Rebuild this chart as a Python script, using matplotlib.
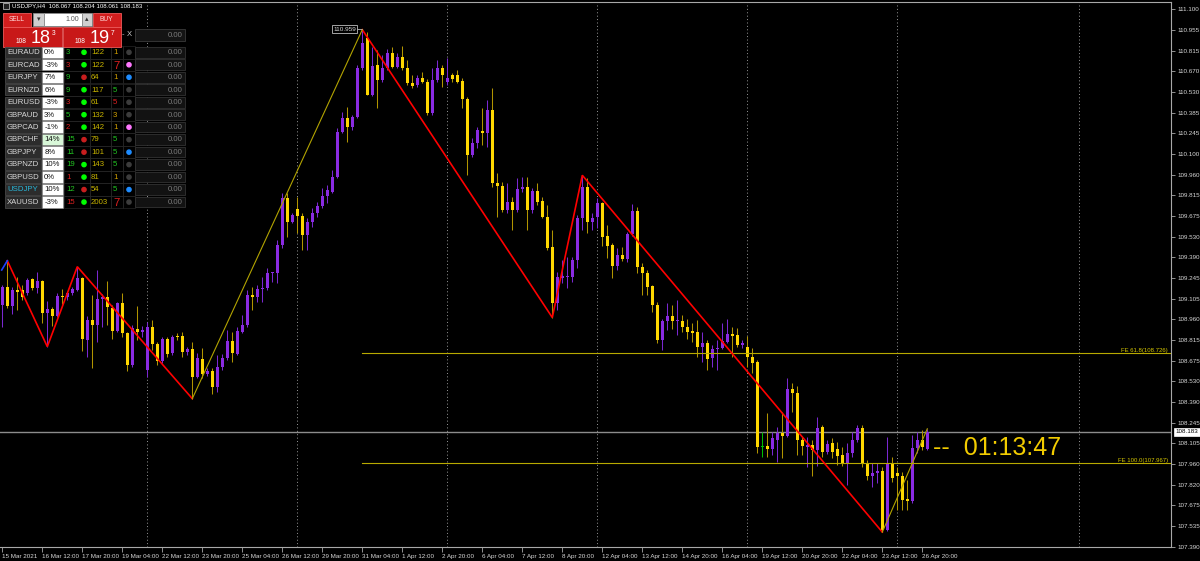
import matplotlib
matplotlib.use("Agg")
import matplotlib.pyplot as plt
from matplotlib.patches import Rectangle, Circle
import matplotlib.transforms as mtrans
import numpy as np

plt.rcParams['font.family'] = ['Liberation Sans', 'DejaVu Sans']

# ---------------- data (USDJPY H4) ----------------
opens = [
109.058, 109.181, 109.054, 109.162, 109.162, 109.139, 109.238, 109.176, 109.224, 109.005,
109.031, 108.985, 109.123, 109.112, 109.139, 109.162, 109.247, 108.817, 108.955, 108.918,
109.100, 109.112, 109.036, 108.881, 109.072, 108.865, 108.644, 108.893, 108.874, 108.610,
108.909, 108.789, 108.674, 108.824, 108.725, 108.844, 108.844, 108.732, 108.755, 108.559,
108.686, 108.582, 108.605, 108.494, 108.632, 108.691, 108.810, 108.720, 108.874, 108.920,
109.127, 109.116, 109.169, 109.178, 109.277, 109.277, 109.473, 109.795, 109.633, 109.719,
109.673, 109.542, 109.633, 109.691, 109.742, 109.811, 109.841, 109.944, 110.255, 110.347,
110.289, 110.354, 110.692, 110.900, 110.508, 110.715, 110.612, 110.692, 110.796, 110.704,
110.773, 110.692, 110.589, 110.577, 110.623, 110.600, 110.382, 110.612, 110.692, 110.600,
110.646, 110.646, 110.605, 110.481, 110.094, 110.175, 110.260, 110.248, 110.405, 109.903,
109.880, 109.714, 109.771, 109.714, 109.857, 109.875, 109.714, 109.847, 109.776, 109.668,
109.457, 109.074, 109.243, 109.252, 109.254, 109.369, 109.657, 109.875, 109.633, 109.668,
109.761, 109.535, 109.473, 109.328, 109.404, 109.374, 109.549, 109.709, 109.323, 109.281,
109.190, 109.058, 108.817, 108.950, 108.982, 108.946, 108.950, 108.904, 108.879, 108.872,
108.771, 108.798, 108.695, 108.755, 108.759, 108.805, 108.858, 108.851, 108.782, 108.766,
108.697, 108.663, 108.080, 108.085, 108.062, 108.126, 108.177, 108.154, 108.476, 108.453,
108.126, 108.080, 108.092, 108.057, 108.214, 108.046, 108.104, 108.064, 108.023, 107.965,
108.035, 108.126, 108.207, 107.965, 107.878, 107.901, 107.912, 107.505, 107.970, 107.897,
107.878, 107.717, 107.707, 108.069, 108.126, 108.067]
highs = [
109.197, 109.364, 109.185, 109.254, 109.197, 109.245, 109.247, 109.284, 109.231, 109.086,
109.047, 109.139, 109.167, 109.150, 109.185, 109.323, 109.254, 108.982, 109.127, 109.300,
109.134, 109.226, 109.058, 109.081, 109.139, 108.874, 108.920, 109.054, 108.913, 108.943,
108.955, 108.805, 108.840, 108.840, 108.851, 108.867, 108.874, 108.771, 108.805, 108.725,
108.761, 108.623, 108.623, 108.713, 108.720, 108.886, 108.874, 108.906, 108.989, 109.162,
109.185, 109.197, 109.254, 109.314, 109.288, 109.507, 109.830, 109.830, 109.691, 109.806,
109.691, 109.657, 109.726, 109.772, 109.866, 109.887, 109.990, 110.278, 110.393, 110.427,
110.370, 110.715, 110.959, 110.945, 110.842, 110.819, 110.784, 110.824, 110.842, 110.796,
110.846, 110.750, 110.646, 110.646, 110.669, 110.617, 110.692, 110.750, 110.715, 110.761,
110.658, 110.681, 110.623, 110.496, 110.209, 110.289, 110.416, 110.474, 110.554, 109.968,
109.910, 109.899, 109.806, 109.933, 109.944, 109.944, 109.864, 109.903, 109.806, 109.749,
109.576, 109.288, 109.369, 109.392, 109.392, 109.680, 109.954, 109.935, 109.691, 109.795,
109.772, 109.611, 109.484, 109.450, 109.457, 109.564, 109.756, 109.737, 109.346, 109.300,
109.197, 109.081, 108.960, 109.070, 109.058, 109.093, 108.989, 108.960, 108.932, 108.955,
108.874, 108.817, 108.782, 108.817, 108.936, 108.960, 108.909, 108.897, 108.817, 108.844,
108.760, 108.679, 108.184, 108.311, 108.184, 108.218, 108.322, 108.552, 108.518, 108.499,
108.149, 108.145, 108.126, 108.287, 108.230, 108.126, 108.138, 108.115, 108.080, 108.104,
108.184, 108.230, 108.230, 107.988, 107.965, 107.965, 107.942, 108.149, 108.011, 107.942,
107.908, 107.850, 108.161, 108.184, 108.195, 108.204]
lows = [
108.906, 109.038, 108.999, 109.024, 109.093, 109.127, 109.162, 109.139, 108.936, 108.771,
108.913, 108.978, 109.063, 109.093, 109.127, 109.157, 108.743, 108.702, 108.626, 108.805,
108.909, 108.920, 108.822, 108.874, 108.840, 108.605, 108.632, 108.817, 108.840, 108.563,
108.748, 108.644, 108.660, 108.702, 108.713, 108.817, 108.702, 108.713, 108.412, 108.552,
108.554, 108.568, 108.444, 108.460, 108.610, 108.679, 108.667, 108.713, 108.865, 108.909,
109.024, 109.081, 109.081, 109.162, 109.219, 109.208, 109.450, 109.530, 109.622, 109.553,
109.438, 109.438, 109.599, 109.668, 109.728, 109.763, 109.830, 109.933, 110.244, 110.186,
110.267, 110.347, 110.681, 110.508, 110.500, 110.416, 110.600, 110.681, 110.692, 110.692,
110.681, 110.577, 110.554, 110.561, 110.593, 110.370, 110.370, 110.600, 110.566, 110.577,
110.600, 110.589, 110.416, 109.956, 110.082, 110.140, 110.163, 110.151, 109.875, 109.668,
109.702, 109.691, 109.576, 109.702, 109.838, 109.576, 109.691, 109.749, 109.657, 109.438,
108.972, 109.024, 109.210, 109.174, 109.219, 109.312, 109.576, 109.553, 109.576, 109.588,
109.466, 109.381, 109.243, 109.300, 109.364, 109.357, 109.535, 109.281, 109.127, 109.127,
109.012, 108.794, 108.748, 108.886, 108.891, 108.851, 108.874, 108.822, 108.805, 108.702,
108.667, 108.610, 108.632, 108.610, 108.752, 108.794, 108.702, 108.771, 108.759, 108.632,
108.587, 108.035, 108.011, 108.011, 108.023, 107.977, 108.000, 108.149, 108.322, 108.023,
108.023, 107.942, 107.878, 107.947, 108.011, 108.030, 108.000, 107.954, 107.947, 107.816,
108.011, 108.115, 107.942, 107.850, 107.804, 107.827, 107.491, 107.498, 107.839, 107.643,
107.643, 107.643, 107.689, 108.035, 108.057, 108.061]
closes = [
109.183, 109.054, 109.162, 109.150, 109.116, 109.231, 109.176, 109.224, 109.005, 109.031,
108.985, 109.123, 109.112, 109.139, 109.169, 109.247, 108.826, 108.955, 108.918, 109.100,
109.112, 109.047, 108.881, 109.074, 108.863, 108.644, 108.900, 108.874, 108.886, 108.909,
108.789, 108.674, 108.824, 108.720, 108.840, 108.835, 108.732, 108.755, 108.559, 108.691,
108.580, 108.605, 108.494, 108.632, 108.691, 108.810, 108.725, 108.881, 108.920, 109.127,
109.116, 109.169, 109.178, 109.277, 109.284, 109.473, 109.795, 109.633, 109.680, 109.673,
109.542, 109.633, 109.691, 109.742, 109.811, 109.852, 109.944, 110.255, 110.347, 110.289,
110.354, 110.692, 110.865, 110.508, 110.710, 110.612, 110.692, 110.796, 110.704, 110.773,
110.692, 110.589, 110.570, 110.623, 110.600, 110.382, 110.612, 110.692, 110.646, 110.623,
110.619, 110.600, 110.481, 110.094, 110.175, 110.267, 110.248, 110.405, 109.903, 109.880,
109.714, 109.771, 109.714, 109.857, 109.875, 109.714, 109.847, 109.771, 109.668, 109.450,
109.074, 109.254, 109.259, 109.257, 109.369, 109.657, 109.875, 109.633, 109.657, 109.761,
109.530, 109.466, 109.328, 109.404, 109.374, 109.549, 109.709, 109.323, 109.281, 109.181,
109.058, 108.817, 108.950, 108.982, 108.950, 108.955, 108.904, 108.874, 108.867, 108.771,
108.798, 108.686, 108.755, 108.764, 108.810, 108.858, 108.847, 108.782, 108.794, 108.697,
108.660, 108.080, 108.080, 108.062, 108.138, 108.177, 108.154, 108.476, 108.449, 108.126,
108.085, 108.092, 108.057, 108.207, 108.046, 108.099, 108.046, 108.016, 107.965, 108.039,
108.126, 108.207, 107.961, 107.878, 107.901, 107.912, 107.505, 107.970, 107.862, 107.878,
107.712, 107.707, 108.069, 108.126, 108.080, 108.183]

date_labels = ["15 Mar 2021", "16 Mar 12:00", "17 Mar 20:00", "19 Mar 04:00", "22 Mar 12:00",
               "23 Mar 20:00", "25 Mar 04:00", "26 Mar 12:00", "29 Mar 20:00", "31 Mar 04:00",
               "1 Apr 12:00", "2 Apr 20:00", "6 Apr 04:00", "7 Apr 12:00", "8 Apr 20:00",
               "12 Apr 04:00", "13 Apr 12:00", "14 Apr 20:00", "16 Apr 04:00", "19 Apr 12:00",
               "20 Apr 20:00", "22 Apr 04:00", "23 Apr 12:00", "26 Apr 20:00"]
price_labels = ["111.100", "110.955", "110.815", "110.670", "110.530", "110.385", "110.245",
                "110.100", "109.960", "109.815", "109.675", "109.530", "109.390", "109.245",
                "109.105", "108.960", "108.815", "108.675", "108.530", "108.390", "108.245",
                "108.105", "107.960", "107.820", "107.675", "107.535", "107.390"]
week_start_idx = [29, 59, 89, 119, 149, 179, 215.3]

# zigzag legs (bar index, price)
zz_red_1 = [(1, 109.364), (9, 108.771), (15, 109.323), (38, 108.412)]
zz_olive_1 = [(38, 108.412), (72, 110.959)]
zz_red_2 = [(72, 110.959), (110, 108.972), (116, 109.954), (176, 107.491)]
zz_olive_2 = [(176, 107.491), (185, 108.204)]
zz_blue = [(-0.12, 109.300), (1, 109.364)]
peak_label = (72, 110.959, "110.959")
fe_levels = [108.726, 107.967]
fe_texts = ["FE 61.8(108.726)", "FE 100.0(107.967)"]
fe_start = 72
bid_price = 108.183
timer_text = "--  01:13:47"
title_text = "USDJPY,H4  108.067 108.204 108.061 108.183"

# dashboard panel
symbols = ["EURAUD", "EURCAD", "EURJPY", "EURNZD", "EURUSD", "GBPAUD", "GBPCAD",
           "GBPCHF", "GBPJPY", "GBPNZD", "GBPUSD", "USDJPY", "XAUUSD"]
pcts = ["0%", "-3%", "7%", "6%", "-3%", "3%", "-1%", "14%", "8%", "10%", "0%", "10%", "-3%"]
n1_vals = ["3", "3", "9", "9", "3", "5", "2", "15", "11", "19", "1", "12", "15"]
n1_cols = ["g", "r", "g", "g", "r", "g", "r", "g", "g", "g", "r", "g", "r"]
dot1 = ["g", "g", "r", "g", "g", "g", "g", "r", "r", "g", "g", "r", "g"]
n2_vals = ["122", "122", "64", "117", "61", "132", "142", "79", "101", "143", "81", "54", "2003"]
n3_vals = ["1", "7", "1", "5", "5", "3", "1", "5", "5", "5", "1", "5", "7"]
n3_cols = ["o", "r", "o", "g", "r", "o", "o", "g", "g", "g", "o", "g", "r"]
dot2 = ["x", "p", "b", "x", "x", "x", "p", "x", "b", "x", "x", "b", "x"]

# ---------------- figure ----------------
W, Hpx = 1200, 561
fig = plt.figure(figsize=(W / 100, Hpx / 100), dpi=100, facecolor='black')
ax = fig.add_axes([0, 14 / Hpx, 1171 / W, 545 / Hpx])
ax.set_facecolor('black')

o = np.array(opens); h = np.array(highs); l = np.array(lows); c = np.array(closes)
idx = np.arange(len(c))
ax.set_xlim(-0.46, 233.74)
ax.set_ylim(107.388, 111.150)

PURPLE = '#8a2be2'; PURPLE_W = '#7a28d0'
GOLD = '#ffd700'; GOLD_W = '#b09400'; DOJI = '#00c000'
up = c > o
doji = np.isclose(c, o)
body_col = np.where(doji, DOJI, np.where(up, PURPLE, GOLD))
wick_col = np.where(doji, DOJI, np.where(up, PURPLE_W, GOLD_W))
ax.vlines(idx, l, h, colors=wick_col, lw=0.75, zorder=2)
bottoms = np.minimum(o, c)
heights = np.maximum(np.abs(c - o), 0.0075)
ax.bar(idx, heights, bottom=bottoms, width=0.62, color=body_col, lw=0, zorder=3)

# grid
for g in week_start_idx:
    ax.axvline(g, color='#9a9a9a', lw=0.7, ls=(0, (1, 2.5)), zorder=1)

# FE levels
for lev, t in zip(fe_levels, fe_texts):
    ax.plot([fe_start, 240], [lev, lev], color='#b8aa00', lw=0.8, zorder=4)
    ax.text(233.1, lev + 0.004, t, ha='right', va='bottom', fontsize=4.3, color='#d8c800', zorder=5)

# current price line
ax.axhline(bid_price, color='#8c8c8c', lw=1.0, zorder=1)

def leg(pts, col, lw):
    xs, ys = zip(*pts)
    ax.plot(xs, ys, color=col, lw=lw, zorder=6, solid_joinstyle='miter')

leg(zz_red_1, '#ff0000', 1.2)
leg(zz_red_2, '#ff0000', 1.2)
leg(zz_olive_1, '#b3a400', 0.8)
leg(zz_olive_2, '#b3a400', 0.8)
leg(zz_blue, '#2040ff', 1.2)

# peak price label
px_, py_, pt_ = peak_label
ax.annotate(pt_, xy=(px_, py_), xytext=(-12.8, 0.3), textcoords='offset points',
            ha='center', va='center', fontsize=4.6, color='#d8d8d8', zorder=7,
            bbox=dict(boxstyle='square,pad=0.2', fc='black', ec='#bdbdbd', lw=0.6),
            arrowprops=dict(arrowstyle='-', color='#bdbdbd', lw=0.6, shrinkA=0, shrinkB=0))

# timer
ax.text(186.1, 108.071, timer_text, ha='left', va='center', fontsize=18,
        color='#f2cc00', zorder=7)

# axes styling
for s in ['top', 'right', 'bottom']:
    ax.spines[s].set_color('#a8a8a8'); ax.spines[s].set_linewidth(0.8)
ax.spines['left'].set_visible(False)
ax.yaxis.tick_right()
ytk = [111.100 - k * (3.71 / 26) for k in range(len(price_labels))]
ax.set_yticks(ytk)
ax.set_yticklabels(price_labels)
ax.tick_params(axis='y', color='#a8a8a8', labelcolor='#d8d8d8', labelsize=4.5,
               length=3, width=0.6, pad=1.5)
ax.set_xticks(np.arange(0, 8 * len(date_labels), 8))
ax.set_xticklabels(date_labels)
for t in ax.get_xticklabels():
    t.set_ha('left')
ax.tick_params(axis='x', color='#a8a8a8', labelcolor='#d8d8d8', labelsize=4.5,
               length=3.5, width=0.6, pad=1.5)

ax.annotate(f"{bid_price:.3f}", xy=(1, bid_price), xycoords=('axes fraction', 'data'),
            xytext=(3.2, 0), textcoords='offset points', ha='left', va='center',
            fontsize=4.5, color='black', zorder=8, annotation_clip=False,
            bbox=dict(boxstyle='square,pad=0.25', fc='white', ec='white', lw=0.5))

# ---------------- overlay panel (pixel coords) ----------------
ov = fig.add_axes([0, 0, 1, 1])
ov.set_xlim(0, W); ov.set_ylim(Hpx, 0)
ov.axis('off')

def rect(x0, y0, x1, y1, fc, ec='none', lw=0.6, z=10):
    ov.add_patch(Rectangle((x0, y0), x1 - x0, y1 - y0, facecolor=fc, edgecolor=ec, lw=lw, zorder=z))

def txt(x, y, s, size, color, ha='left', va='center', **kw):
    ov.text(x, y, s, fontsize=size, color=color, ha=ha, va=va, zorder=12, **kw)

# title
rect(2.5, 3, 9, 9, '#202020', ec='#cfcfcf', lw=0.5)
txt(12, 6.2, title_text, 4.4, '#ffffff')

# sell / buy buttons
RED = '#d21e1e'; RED_E = '#ee5a5a'
rect(3, 12.5, 31, 26.5, RED, ec=RED_E)
txt(17, 19.5, 'SELL', 4.8, '#ffd9d9', ha='center')
rect(32.5, 13, 44, 26, '#cfcfcf', ec='#8a8a8a')
txt(38.3, 19.5, '▾', 5, '#333333', ha='center')
rect(44, 13, 81.5, 26, '#ffffff', ec='#8a8a8a')
txt(79, 19.5, '1.00', 5, '#555555', ha='right')
rect(81.5, 13, 91.5, 26, '#cfcfcf', ec='#8a8a8a')
txt(86.5, 19.5, '▴', 5, '#333333', ha='center')
rect(93, 12.5, 120.5, 26.5, RED, ec=RED_E)
txt(106.7, 19.5, 'BUY', 4.8, '#ffd9d9', ha='center')

rect(3, 27, 62, 47, '#c81818', ec=RED_E)
rect(63, 27, 121, 47, '#c81818', ec=RED_E)
txt(20.5, 41.5, '108', 4.8, 'white', ha='center')
txt(40.5, 38, '18', 13, 'white', ha='center')
txt(51.5, 33, '3', 4.8, 'white')
txt(79.5, 41.5, '108', 4.8, 'white', ha='center')
txt(99.5, 38, '19', 13, 'white', ha='center')
txt(111, 33, '7', 4.8, 'white')

txt(123.3, 34.5, '-', 5.5, '#bbbbbb', ha='center')
txt(129.3, 34.5, 'X', 5.5, '#cccccc', ha='center')
rect(134.5, 29, 185, 40.5, '#141414', ec='#3a3a3a')
txt(183, 35, '0.00', 5.6, '#7c7c7c', ha='right')

cmap = {'g': '#22c422', 'r': '#e02020', 'o': '#d4a200'}
dmap = {'g': '#00ff00', 'r': '#c81e1e', 'x': '#3c3c3c', 'p': '#ff78ff', 'b': '#1e8cff'}
for r, sym in enumerate(symbols):
    yc = 52.3 + r * 12.48
    rect(5, yc - 5.7, 40.7, yc + 5.7, '#2c2c2c', ec='#474747')
    txt(7, yc + 0.3, sym, 5.6, '#29b6d8' if sym == 'USDJPY' else '#d8d8d8')
    bg = '#d8f7d8' if pcts[r] == '14%' else '#ffffff'
    rect(42.3, yc - 5.7, 62.5, yc + 5.7, bg, ec='#9a9a9a', lw=0.4)
    txt(44.2, yc + 0.3, pcts[r], 5.6, '#111111')
    for xa, xb in [(63.5, 89.5), (89.5, 110.5), (110.5, 122.5), (122.5, 134.5)]:
        rect(xa, yc - 6.2, xb, yc + 6.2, 'none', ec='#262626', lw=0.5, z=9)
    txt(66, yc + 0.3, n1_vals[r], 5.6, cmap[n1_cols[r]])
    ov.add_patch(Circle((84, yc), 2.1, color=dmap[dot1[r]], zorder=11))
    txt(91, yc + 0.3, n2_vals[r], 5.6, '#c8b400')
    big = n3_vals[r] == '7'
    txt(113, yc + (0.8 if big else 0.3), n3_vals[r], 8.2 if big else 5.6, cmap[n3_cols[r]])
    ov.add_patch(Circle((129, yc), 2.1, color=dmap[dot2[r]], zorder=11))
    rect(135, yc - 5.3, 185, yc + 5.3, '#121212', ec='#323232')
    txt(183, yc + 0.3, '0.00', 5.6, '#7c7c7c', ha='right')

fig.savefig('out.png', dpi=100, facecolor='black')
